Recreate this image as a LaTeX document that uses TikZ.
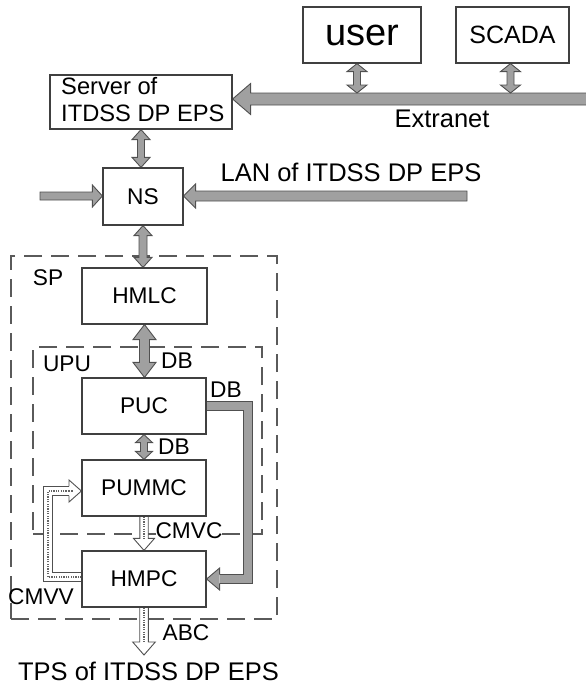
\documentclass[tikz,border=0pt]{standalone}
\usepackage{fontspec}
\setmainfont{Liberation Sans}
\usetikzlibrary{calc}
\definecolor{arrfill}{RGB}{160,160,160}
\definecolor{arrline}{RGB}{80,80,80}
\definecolor{boxline}{RGB}{64,64,64}
\definecolor{dashcol}{RGB}{90,90,90}
\definecolor{dotcol}{RGB}{100,100,100}
\tikzset{
 lbl/.style={font=\fontsize{22.7}{26}\selectfont, inner sep=0pt},
 biglbl/.style={font=\fontsize{25.5}{29}\selectfont, inner sep=0pt},
 blk/.style={draw=boxline, line width=1.2pt, fill=white, inner sep=0pt, font=\fontsize{22.7}{26}\selectfont},
 grp/.style={draw=dashcol, line width=1.2pt, dash pattern=on 18pt off 9pt, inner sep=0pt},
 fat/.style={fill=arrfill, draw=arrline, line width=0.9pt, line join=miter},
 hollow/.style={fill=white, draw=arrline, line width=0.9pt, line join=miter},
 dotc/.style={draw=dotcol, line width=1.6pt, dash pattern=on 1.2pt off 1.2pt},
}
% vertical double-headed fat arrow: top point, bottom point, half shaft, half head, head length
\newcommand\vdbl[5]{\filldraw[fat] let \p1=(#1),\p2=(#2) in (\x1,\y1) -- (\x1-#4,\y1-#5) -- (\x1-#3,\y1-#5) -- (\x1-#3,\y2+#5) -- (\x1-#4,\y2+#5) -- (\x1,\y2) -- (\x1+#4,\y2+#5) -- (\x1+#3,\y2+#5) -- (\x1+#3,\y1-#5) -- (\x1+#4,\y1-#5) -- cycle;}
% horizontal fat arrows, tip at #2, height of #1
\newcommand\harrowR[5]{\filldraw[fat] let \p1=(#1),\p2=(#2) in (\x1,\y1+#3) -- (\x2-#5,\y1+#3) -- (\x2-#5,\y1+#4) -- (\x2,\y1) -- (\x2-#5,\y1-#4) -- (\x2-#5,\y1-#3) -- (\x1,\y1-#3) -- cycle;}
\newcommand\harrowL[5]{\filldraw[fat] let \p1=(#1),\p2=(#2) in (\x1,\y1+#3) -- (\x2+#5,\y1+#3) -- (\x2+#5,\y1+#4) -- (\x2,\y1) -- (\x2+#5,\y1-#4) -- (\x2+#5,\y1-#3) -- (\x1,\y1-#3) -- cycle;}
% vertical hollow arrow downwards with dotted core
\newcommand\vhollow[5]{\filldraw[hollow] let \p1=(#1),\p2=(#2) in (\x1-#3,\y1) -- (\x1-#3,\y2+#5) -- (\x1-#4,\y2+#5) -- (\x1,\y2) -- (\x1+#4,\y2+#5) -- (\x1+#3,\y2+#5) -- (\x1+#3,\y1);
 \draw[dotc] let \p1=(#1),\p2=(#2) in (\x1,\y1) -- (\x1,\y2+#5);}
\begin{document}
\begin{tikzpicture}[x=1pt,y=-1pt]
\useasboundingbox (0,0) rectangle (586,686);
% groups
\node[grp, minimum width=266pt, minimum height=363pt] (sp) at (144,437.5) {};
\node[grp, minimum width=229pt, minimum height=187pt] (upu) at (147.5,440.5) {};
% node placement (box borders redrawn later on top)
\path node[blk, minimum width=118pt, minimum height=56pt, font=\fontsize{38}{44}\selectfont] (user) at (362,35) {user}
      node[blk, minimum width=113pt, minimum height=56pt, font=\fontsize{25}{29}\selectfont] (scada) at (512.5,35) {SCADA}
      node[blk, minimum width=182pt, minimum height=54pt] (server) at (141,102) {}
      node[blk, minimum width=80pt, minimum height=57pt] (ns) at (143,196.5) {NS}
      node[blk, minimum width=125pt, minimum height=56pt] (hmlc) at (144.5,296) {HMLC}
      node[blk, minimum width=124pt, minimum height=56pt] (puc) at (144,406) {PUC}
      node[blk, minimum width=124pt, minimum height=56pt] (pummc) at (144,488) {PUMMC}
      node[blk, minimum width=124pt, minimum height=56pt] (hmpc) at (144,579) {HMPC};
\node[inner sep=0pt, font=\fontsize{23.7}{27}\selectfont, anchor=north west, align=left] (srvtxt) at (61,77) {Server of\\ITDSS DP EPS};
% coordinates
\coordinate (extr) at (592,99);
\coordinate (extrtop) at (400,93);
\coordinate (ubot) at ($(user.south)+(-5,0)$);
\coordinate (sbot) at ($(scada.south)+(-2,0)$);
\coordinate (nsleft) at (40,196);
\coordinate (lanstart) at (467,196);
\coordinate (lcorner) at (248,406);
\coordinate (lhead) at ($(hmpc.east)+(13,0)$);
\coordinate (cmvvstart) at ($(hmpc.west)+(0,-2)$);
\coordinate (cmvvcorner) at (48,491);
\coordinate (cmvvhead) at (69,491);
\coordinate (tpstop) at (144,655);
% arrows
\harrowL{extr}{server.east}{6pt}{15.5pt}{18pt}
\vdbl{ubot}{ubot |- extrtop}{3.5pt}{10pt}{8pt}
\vdbl{sbot}{sbot |- extrtop}{3.5pt}{10pt}{8pt}
\vdbl{server.south}{ns.north}{3.5pt}{9pt}{10pt}
\harrowR{nsleft}{ns.west}{4pt}{11pt}{10pt}
\harrowL{lanstart}{ns.east}{5pt}{12pt}{12pt}
\vdbl{ns.south}{hmlc.north}{4pt}{9pt}{10pt}
\vdbl{hmlc.south}{puc.north}{5pt}{11.5pt}{15pt}
\vdbl{puc.south}{pummc.north}{3.5pt}{8.5pt}{8pt}
\vhollow{pummc.south}{hmpc.north}{4.2pt}{10.5pt}{12pt}
\vhollow{hmpc.south}{tpstop}{4.3pt}{11.3pt}{13pt}
% L-shaped DB arrow PUC -> HMPC
\draw[line width=10.5pt, arrline] (puc.east) -- (lcorner) |- (lhead);
\draw[line width=8.7pt, arrfill] (puc.east) -- (lcorner) |- (lhead);
\filldraw[fat] let \p1=(lhead),\p2=(hmpc.east) in (\x1,\y1+4.35pt) -- (\x1,\y1+11pt) -- (\x2,\y2) -- (\x1,\y1-11pt) -- (\x1,\y1-4.35pt);
% CMVV loop HMPC -> PUMMC
\draw[line width=9.4pt, arrline] (cmvvstart) -| (cmvvcorner) -- (cmvvhead);
\draw[line width=7.6pt, white] (cmvvstart) -| (cmvvcorner) -- (cmvvhead);
\draw[dotc] (cmvvstart) -| (cmvvcorner) -- (cmvvhead);
\filldraw[hollow] let \p1=(cmvvhead),\p2=(pummc.west) in (\x1,\y1+4.7pt) -- (\x1,\y1+11pt) -- (\x2,\y1) -- (\x1,\y1-11pt) -- (\x1,\y1-4.7pt);
\draw[dotc] let \p1=(cmvvhead) in (\x1,\y1) -- (\x1+4pt,\y1);
% redraw box borders on top
\foreach \n in {user,scada,server,ns,hmlc,puc,pummc,hmpc}
  \draw[draw=boxline, line width=1.2pt] (\n.south west) rectangle (\n.north east);
% labels
\node[lbl] (splbl) at (48,278) {SP};
\node[lbl] (upulbl) at (67,364) {UPU};
\node[lbl] (db1) at (177,361) {DB};
\node[lbl] (db2) at (226,390) {DB};
\node[lbl] (db3) at (174,447) {DB};
\node[lbl, fill=white] (cmvc) at (189,531) {CMVC};
\node[lbl] (cmvv) at (41,597) {CMVV};
\node[lbl] (abc) at (186,633) {ABC};
\node[biglbl] (tps) at (148.5,671) {TPS of ITDSS DP EPS};
\node[biglbl] (extranet) at (442,119) {Extranet};
\node[biglbl] (lan) at (351,172) {LAN of ITDSS DP EPS};
\end{tikzpicture}
\end{document}
